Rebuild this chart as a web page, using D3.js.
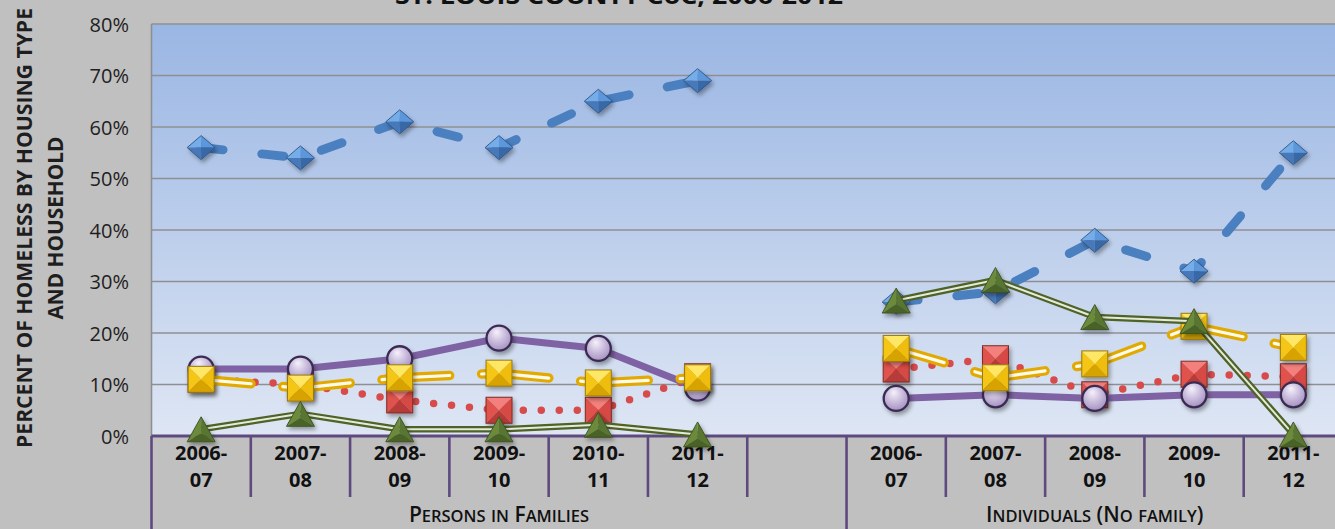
<!DOCTYPE html>
<html><head><meta charset="utf-8">
<script src="https://cdn.jsdelivr.net/npm/d3@7/dist/d3.min.js"></script>
<style>
body{margin:0;background:#c0c0c0;overflow:hidden}
svg{display:block}
text{font-family:"Open Sans","DejaVu Sans",sans-serif}
</style>
</head><body>
<svg id="chart" width="1335" height="529"></svg>
<script>
// ---------- data ----------
const groups = ["Persons in Families", "Individuals (No family)"];
const familyPeriods = ["2006-07", "2007-08", "2008-09", "2009-10", "2010-11", "2011-12"];
const individualPeriods = ["2006-07", "2007-08", "2008-09", "2009-10", "2011-12"];
const yTickValues = [0, 10, 20, 30, 40, 50, 60, 70, 80];
const titleText = "ST. LOUIS COUNTY CoC, 2006-2012";
const yTitleLines = ["PERCENT OF HOMELESS BY HOUSING TYPE", "AND HOUSEHOLD"];

// percent values per series: families, individuals
const series1Fam = [56, 54, 61, 56, 65, 69];
const series1Ind = [26, 28, 38, 32, 55];
const series2Fam = [11, 10, 7, 5, 5, 11.5];
const series2Ind = [13, 15, 8, 12, 11.5];
const series3Fam = [13, 13, 15, 19, 17, 9.3];
const series3Ind = [7.3, 8, 7.3, 8, 8];
const series4Fam = [11, 9.3, 11.3, 12.2, 10.3, 11.3];
const series4Ind = [17, 11.3, 14, 21.3, 17.2];
const series5Fam = [1.3, 4.3, 1.3, 1.3, 2.2, 0.3];
const series5Ind = [26.3, 30.3, 23.1, 22.3, 0.3];

// ---------- layout ----------
const svg = d3.select("#chart");
const L = 151.5, R = 1343, T = 24, B = 436;

const famKeys = familyPeriods.map(p => "F|" + p);
const indKeys = individualPeriods.map(p => "I|" + p);
const keys = famKeys.concat(["gap"], indKeys);
const x = d3.scaleBand().domain(keys).range([L, R]).paddingInner(0).paddingOuter(0);
const y = d3.scaleLinear().domain([0, 80]).range([B, T]);
const cx = k => x(k) + x.bandwidth() / 2;

const defs = svg.append("defs");
const bg = defs.append("linearGradient").attr("id", "plotbg").attr("x1", 0).attr("y1", 0).attr("x2", 0).attr("y2", 1);
bg.append("stop").attr("offset", "0%").attr("stop-color", "#9ab6e3");
bg.append("stop").attr("offset", "100%").attr("stop-color", "#dee6f4");

const rg = defs.append("radialGradient").attr("id", "circ").attr("cx", "45%").attr("cy", "40%").attr("r", "65%").attr("fx", "40%").attr("fy", "25%");
rg.append("stop").attr("offset", "0%").attr("stop-color", "#f6f2fb");
rg.append("stop").attr("offset", "55%").attr("stop-color", "#c6b8da");
rg.append("stop").attr("offset", "100%").attr("stop-color", "#a08cbd");

const f = defs.append("filter").attr("id", "shadow").attr("x", "-50%").attr("y", "-50%").attr("width", "200%").attr("height", "200%");
f.append("feDropShadow").attr("dx", 2).attr("dy", 3).attr("stdDeviation", 2).attr("flood-color", "#000").attr("flood-opacity", 0.35);

// plot background
svg.append("rect").attr("x", L).attr("y", T).attr("width", R - L).attr("height", B - T).attr("fill", "url(#plotbg)");

// gridlines
svg.append("g").selectAll("line").data(yTickValues.filter(v => v > 0)).join("line")
  .attr("x1", L).attr("x2", R).attr("y1", d => y(d)).attr("y2", d => y(d))
  .attr("stroke", "#8f8f93").attr("stroke-width", 1.6);
svg.append("line").attr("x1", L).attr("x2", L).attr("y1", T).attr("y2", B)
  .attr("stroke", "#8f8f93").attr("stroke-width", 1.6);

// y axis labels
const yAxis = d3.axisLeft(y).tickValues(yTickValues).tickFormat(d => d + "%").tickSize(0).tickPadding(0);
const yg = svg.append("g").attr("transform", `translate(129,0)`).call(yAxis);
yg.select(".domain").remove();
yg.selectAll("text").attr("font-size", 20).attr("fill", "#1e1e1e").attr("dy", "0.35em")
  .style("font-family", '"Open Sans",sans-serif');

// y axis title
const yt = svg.append("g");
yt.append("text").attr("transform", "translate(32,228) rotate(-90)").attr("text-anchor", "middle")
  .attr("font-size", 21).attr("font-weight", 700).attr("fill", "#1e1e1e")
  .attr("textLength", 440).attr("lengthAdjust", "spacingAndGlyphs").text(yTitleLines[0]);
yt.append("text").attr("transform", "translate(63,228) rotate(-90)").attr("text-anchor", "middle")
  .attr("font-size", 21).attr("font-weight", 700).attr("fill", "#1e1e1e")
  .attr("textLength", 183).attr("lengthAdjust", "spacingAndGlyphs").text(yTitleLines[1]);

// title (cut at top as in the source image)
svg.append("text").attr("x", 619).attr("y", 3.5).attr("text-anchor", "middle")
  .attr("font-size", 24).attr("font-weight", 700).attr("fill", "#111")
  .attr("textLength", 448).attr("lengthAdjust", "spacingAndGlyphs").text(titleText);

// ---------- category axis ----------
const axisColor = "#5e4a7e";
const ax = svg.append("g");
const bounds = keys.map(k => x(k)).concat([x(keys[keys.length - 1]) + x.bandwidth()]);
const groupEdges = [0, famKeys.length + 1, keys.length];
ax.selectAll("line.tick").data(bounds).join("line").attr("class", "tick")
  .attr("x1", d => d).attr("x2", d => d).attr("y1", B)
  .attr("y2", (d, i) => groupEdges.includes(i) ? 529 : 497)
  .attr("stroke", axisColor).attr("stroke-width", 2.6);
ax.append("line").attr("x1", L).attr("x2", R).attr("y1", B).attr("y2", B)
  .attr("stroke", axisColor).attr("stroke-width", 2.8);

const catLabels = famKeys.map((k, i) => ({k, p: familyPeriods[i]}))
  .concat(indKeys.map((k, i) => ({k, p: individualPeriods[i]})));
const cl = ax.selectAll("text.cat").data(catLabels).join("text").attr("class", "cat")
  .attr("x", d => cx(d.k)).attr("text-anchor", "middle")
  .attr("font-size", 20).attr("font-weight", 700).attr("fill", "#111");
cl.append("tspan").attr("x", d => cx(d.k)).attr("y", 460).text(d => d.p.slice(0, 5));
cl.append("tspan").attr("x", d => cx(d.k)).attr("y", 487).text(d => d.p.slice(5));

// group labels in small caps (built from runs of big / small letters)
const groupCenters = [(bounds[0] + bounds[7]) / 2, (bounds[7] + bounds[12]) / 2];
function smallCapRuns(s) {
  const runs = [];
  for (const ch of s) {
    const small = ch !== ch.toUpperCase();
    const last = runs[runs.length - 1];
    if (last && last.small === small) last.t += ch.toUpperCase();
    else runs.push({small, t: ch.toUpperCase()});
  }
  return runs;
}
const gl = ax.selectAll("text.grp").data(groups).join("text").attr("class", "grp")
  .attr("x", (d, i) => groupCenters[i]).attr("y", 522).attr("text-anchor", "middle")
  .attr("font-weight", 600).attr("fill", "#111").attr("font-size", 21);
gl.each(function(d) {
  d3.select(this).selectAll("tspan").data(smallCapRuns(d)).join("tspan")
    .attr("font-size", r => r.small ? 16.5 : 21).text(r => r.t);
});

// ---------- series ----------
const plot = svg.append("g");
function pts(fam, ind) {
  return [fam.map((v, i) => [cx(famKeys[i]), y(v)]), ind.map((v, i) => [cx(indKeys[i]), y(v)])];
}
const line = d3.line();

function marker(g, shape, xp, yp) {
  const m = g.append("g").attr("transform", `translate(${xp},${yp})`).attr("filter", "url(#shadow)");
  if (shape === "diamond") {
    const w = 14, h = 12;
    m.append("path").attr("d", `M0,0L${-w},0L0,${-h}Z`).attr("fill", "#74ade9");
    m.append("path").attr("d", `M0,0L0,${-h}L${w},0Z`).attr("fill", "#5b97dc");
    m.append("path").attr("d", `M0,0L${w},0L0,${h}Z`).attr("fill", "#3868a6");
    m.append("path").attr("d", `M0,0L0,${h}L${-w},0Z`).attr("fill", "#4679ba");
    m.append("path").attr("d", `M${-w},0L0,${-h}L${w},0L0,${h}Z`).attr("fill", "none").attr("stroke", "#2d5587").attr("stroke-width", 0.9);
  } else if (shape === "redsq" || shape === "yelsq") {
    const s = 13;
    const c = shape === "redsq"
      ? ["#f3807c", "#e0534e", "#d64a45", "#b73b37", "#7e2a27"]
      : ["#ffe766", "#f5c614", "#eebd0c", "#d6a300", "#9a7a10"];
    m.append("path").attr("d", `M0,0L${-s},${-s}L${s},${-s}Z`).attr("fill", c[0]);
    m.append("path").attr("d", `M0,0L${-s},${-s}L${-s},${s}Z`).attr("fill", c[1]);
    m.append("path").attr("d", `M0,0L${s},${-s}L${s},${s}Z`).attr("fill", c[2]);
    m.append("path").attr("d", `M0,0L${-s},${s}L${s},${s}Z`).attr("fill", c[3]);
    m.append("rect").attr("x", -s).attr("y", -s).attr("width", 2 * s).attr("height", 2 * s)
      .attr("fill", "none").attr("stroke", c[4]).attr("stroke-width", 1);
  } else if (shape === "circle") {
    m.append("circle").attr("r", 12.5).attr("fill", "url(#circ)").attr("stroke", "#3b2b52").attr("stroke-width", 2.3);
  } else if (shape === "triangle") {
    const w = 14, h = 12.5;
    m.append("path").attr("d", `M0,${-h}L${-w},${h}L0,4Z`).attr("fill", "#6c8a3b");
    m.append("path").attr("d", `M0,${-h}L0,4L${w},${h}Z`).attr("fill", "#587630");
    m.append("path").attr("d", `M0,4L${-w},${h}L${w},${h}Z`).attr("fill", "#4a6427");
    m.append("path").attr("d", `M0,${-h}L${-w},${h}L${w},${h}Z`).attr("fill", "none").attr("stroke", "#3c501f").attr("stroke-width", 0.9);
  }
}

// series 1: blue dashed diamonds
{
  const g = plot.append("g");
  const P = pts(series1Fam, series1Ind);
  P.forEach(p => g.append("path").attr("d", line(p)).attr("fill", "none")
    .attr("stroke", "#4a7fc0").attr("stroke-width", 9).attr("stroke-linecap", "round")
    .attr("stroke-linejoin", "round").attr("stroke-dasharray", "22 39"));
  P.flat().forEach(p => marker(g, "diamond", p[0], p[1]));
}
// series 2: red dotted squares
{
  const g = plot.append("g");
  const P = pts(series2Fam, series2Ind);
  P.forEach(p => g.append("path").attr("d", line(p)).attr("fill", "none")
    .attr("stroke", "#d84b4b").attr("stroke-width", 7.5).attr("stroke-linecap", "round")
    .attr("stroke-dasharray", "0 18"));
  P.flat().forEach(p => marker(g, "redsq", p[0], p[1]));
}
// series 3: purple solid circles
{
  const g = plot.append("g");
  const P = pts(series3Fam, series3Ind);
  P.forEach(p => g.append("path").attr("d", line(p)).attr("fill", "none")
    .attr("stroke", "#7f62a3").attr("stroke-width", 7).attr("stroke-linejoin", "round"));
  P.flat().forEach(p => marker(g, "circle", p[0], p[1]));
}
// series 4: yellow double long-dash squares
{
  const g = plot.append("g");
  const P = pts(series4Fam, series4Ind);
  P.forEach(p => d3.pairs(p).forEach(seg => {
    g.append("path").attr("d", line(seg)).attr("fill", "none").attr("stroke", "#e2aa00")
      .attr("stroke-width", 9.5).attr("stroke-linecap", "round").attr("stroke-dasharray", "50 32");
    g.append("path").attr("d", line(seg)).attr("fill", "none").attr("stroke", "#fffbea")
      .attr("stroke-width", 3.2).attr("stroke-linecap", "round").attr("stroke-dasharray", "50 32");
  }));
  P.flat().forEach(p => marker(g, "yelsq", p[0], p[1]));
}
// series 5: green double line triangles
{
  const g = plot.append("g");
  const P = pts(series5Fam, series5Ind);
  P.forEach(p => {
    g.append("path").attr("d", line(p)).attr("fill", "none").attr("stroke", "#4f6228")
      .attr("stroke-width", 6.5).attr("stroke-linejoin", "round");
    g.append("path").attr("d", line(p)).attr("fill", "none").attr("stroke", "#e4ebd8")
      .attr("stroke-width", 2).attr("stroke-linejoin", "round");
  });
  P.flat().forEach(p => marker(g, "triangle", p[0], p[1]));
}
</script>
</body></html>
